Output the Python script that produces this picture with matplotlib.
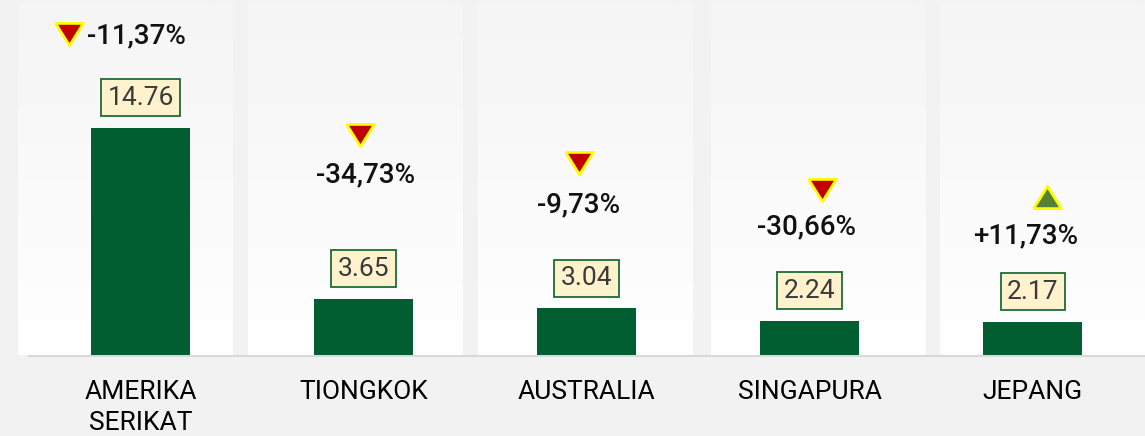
import numpy as np
import matplotlib.pyplot as plt
from matplotlib.colors import LinearSegmentedColormap
from matplotlib.transforms import offset_copy

# Data
countries = ['AMERIKA\nSERIKAT', 'TIONGKOK', 'AUSTRALIA', 'SINGAPURA', 'JEPANG']
values = [14.76, 3.65, 3.04, 2.24, 2.17]
changes = ['-11,37%', '-34,73%', '-9,73%', '-30,66%', '+11,73%']

# Placement of the change labels / arrows above each bar top (pixels)
pct_dx = [-4, 2, -8, -3, -7]
pct_dy = [92, 124, 103, 94, 86]
tri_dx = [-72, -4, -8, 12, 14]
tri_dy = [94, 164, 145, 131, 125]

plt.rcParams['font.family'] = ['Roboto', 'DejaVu Sans']

fig = plt.figure(figsize=(11.45, 4.36), dpi=100, facecolor='#f2f2f2')

# background panels (pixel coordinates)
bg = fig.add_axes([0, 0, 1, 1])
grad = np.linspace(0, 1, 256).reshape(-1, 1)
cmap = LinearSegmentedColormap.from_list('panel', ['#f5f5f5', '#ffffff'])
for left in [18, 248, 478, 711, 940]:
    bg.imshow(grad, extent=(left, left + 215, 355, 3), cmap=cmap, aspect='auto')
bg.plot([29, 1145], [356, 356], color='#d9d9d9', lw=1.5)
bg.set_xlim(0, 1145)
bg.set_ylim(436, 0)
bg.axis('off')

# bars
ax = fig.add_axes([0, 81 / 436, 1, 355 / 436])
ax.patch.set_alpha(0)
x = np.arange(len(values))
ax.bar(x, values, width=0.444, color='#005e30', zorder=3)
ax.set_xlim(-0.630, 4.504)
ax.set_ylim(0, 23.05)
for s in ax.spines.values():
    s.set_visible(False)
ax.set_yticks([])
ax.set_xticks(x, countries, fontsize=19, color='black')
ax.tick_params(axis='x', length=0, pad=18)
for t in ax.get_xticklabels():
    t.set_linespacing(1.35)
    t.set_verticalalignment('top')

# wide, flat triangle markers
tri_down = [(-1, 0.8), (1, 0.8), (0, -0.8), (-1, 0.8)]
tri_up = [(-1, -0.8), (1, -0.8), (0, 0.8), (-1, -0.8)]

for i, v in enumerate(values):
    ax.annotate(f'{v:.2f}', (x[i], v), xytext=(0, 30), textcoords='offset pixels',
                ha='center', va='center', fontsize=19, color='#3a3a3a',
                bbox=dict(boxstyle='square,pad=0.24', fc='#fff2cc', ec='#1d6b38', lw=1.3))
    ax.annotate(changes[i], (x[i], v), xytext=(pct_dx[i], pct_dy[i]),
                textcoords='offset pixels', ha='center', va='center',
                fontsize=20, fontweight='medium', color='#111111')
    up = changes[i].startswith('+')
    tr = offset_copy(ax.transData, fig=fig, x=tri_dx[i], y=tri_dy[i], units='dots')
    ax.plot(x[i], v, marker=tri_up if up else tri_down, markersize=20, transform=tr,
            color='#548235' if up else '#c00000', markeredgecolor='#ffff00',
            markeredgewidth=2, clip_on=False)

fig.savefig('out.png', dpi=100, facecolor=fig.get_facecolor())
